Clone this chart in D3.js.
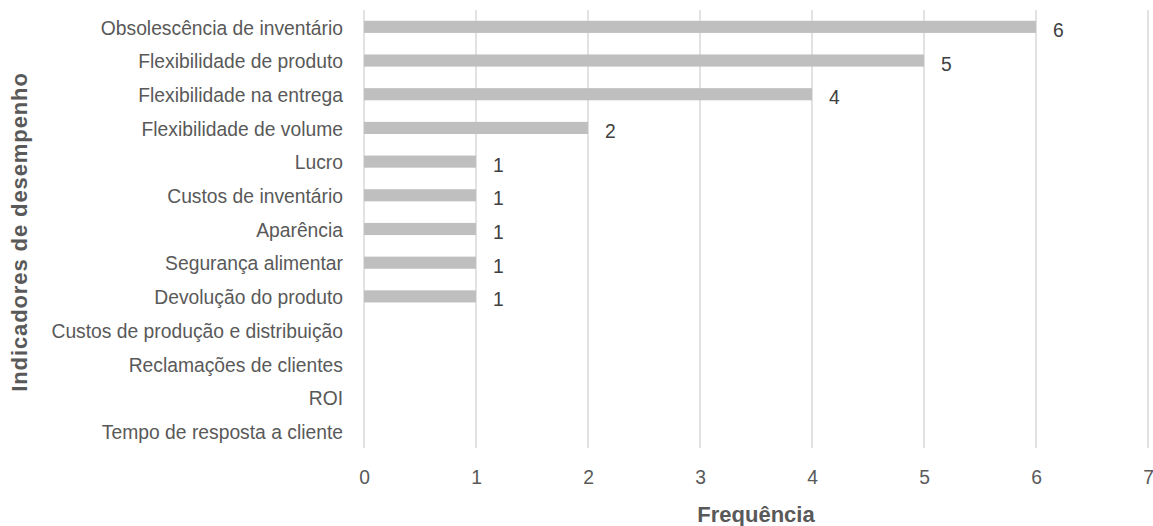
<!DOCTYPE html>
<html>
<head>
<meta charset="utf-8">
<script src="https://cdn.jsdelivr.net/npm/d3@7"></script>
<style>
  html, body { margin: 0; padding: 0; background: #fff; }
  svg { display: block; }
  text { font-family: "Liberation Sans", Arial, sans-serif; }
</style>
</head>
<body>
<svg id="chart" width="1153" height="526"></svg>
<script>
// Indicadores de desempenho e respetiva frequência
const categories = [
  "Obsolescência de inventário",
  "Flexibilidade de produto",
  "Flexibilidade na entrega",
  "Flexibilidade de volume",
  "Lucro",
  "Custos de inventário",
  "Aparência",
  "Segurança alimentar",
  "Devolução do produto",
  "Custos de produção e distribuição",
  "Reclamações de clientes",
  "ROI",
  "Tempo de resposta a cliente"
];
const frequencies = [6, 5, 4, 2, 1, 1, 1, 1, 1, 0, 0, 0, 0];
const xTicks = [0, 1, 2, 3, 4, 5, 6, 7];
const xTitle = "Frequência";
const yTitle = "Indicadores de desempenho";

const svg = d3.select("#chart");
const margin = { left: 364, right: 5, top: 10, bottom: 78 };
const W = 1153, H = 526;
const textColor = "#595959";
const labelSize = 19.3;

const x = d3.scaleLinear().domain([0, 7]).range([margin.left, W - margin.right]);
const y = d3.scaleBand().domain(categories)
  .range([margin.top, H - margin.bottom])
  .paddingInner(0.64).paddingOuter(0.32);

// vertical gridlines
svg.append("g").selectAll("line").data(xTicks).join("line")
  .attr("x1", d => x(d)).attr("x2", d => x(d))
  .attr("y1", margin.top).attr("y2", H - margin.bottom)
  .attr("stroke", "#d9d9d9").attr("stroke-width", 1.5);

// bars
const rows = categories.map((c, i) => ({ c, v: frequencies[i] }));
svg.append("g").selectAll("rect").data(rows).join("rect")
  .attr("x", x(0))
  .attr("y", d => y(d.c))
  .attr("width", d => x(d.v) - x(0))
  .attr("height", y.bandwidth())
  .attr("fill", "#bfbfbf");

// value labels
svg.append("g").selectAll("text").data(rows.filter(d => d.v > 0)).join("text")
  .attr("x", d => x(d.v) + 17)
  .attr("y", d => y(d.c) + y.bandwidth() / 2 + 10)
  .attr("font-size", labelSize)
  .attr("fill", "#404040")
  .text(d => d.v);

// category labels
const yAxis = d3.axisLeft(y).tickSize(0).tickPadding(21);
const gy = svg.append("g").attr("transform", `translate(${margin.left},0)`).call(yAxis);
gy.select(".domain").remove();
gy.selectAll("text")
  .attr("font-size", labelSize).attr("fill", textColor).attr("dy", "0.4em")
  .style("font-family", "'Liberation Sans', Arial, sans-serif");

// x tick labels
const xAxis = d3.axisBottom(x).tickValues(xTicks).tickFormat(d3.format("d")).tickSize(0).tickPadding(0);
const gx = svg.append("g").attr("transform", `translate(0,484)`).call(xAxis);
gx.select(".domain").remove();
gx.selectAll("text")
  .attr("font-size", labelSize).attr("fill", textColor).attr("dy", "0").attr("y", 0)
  .style("font-family", "'Liberation Sans', Arial, sans-serif");

// axis titles
svg.append("text")
  .attr("x", x(3.5)).attr("y", 522)
  .attr("text-anchor", "middle")
  .attr("font-size", 22).attr("font-weight", "bold").attr("fill", textColor)
  .text(xTitle);

svg.append("text")
  .attr("transform", `translate(27,232) rotate(-90)`)
  .attr("text-anchor", "middle")
  .attr("font-size", 22).attr("font-weight", "bold").attr("fill", textColor)
  .attr("letter-spacing", 0.9)
  .text(yTitle);
</script>
</body>
</html>
